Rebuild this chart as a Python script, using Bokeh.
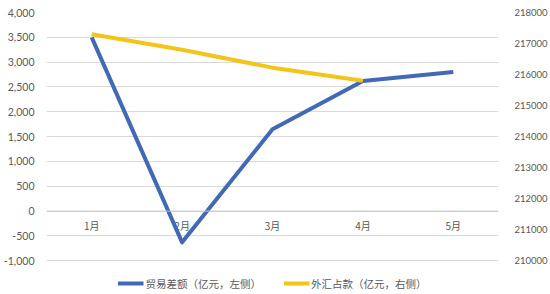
from bokeh.plotting import figure
from bokeh.models import (Range1d, LinearAxis, FixedTicker, NumeralTickFormatter,
                          BasicTickFormatter, Legend, LegendItem, ColumnDataSource, Span)
from bokeh.core.properties import value
from bokeh.embed import file_html
from bokeh.resources import INLINE

months = ["1月", "2月", "3月", "4月", "5月"]
trade_balance = [3500, -630, 1650, 2620, 2800]          # 贸易差额 (亿元, 左侧)
fx_months = ["1月", "2月", "3月", "4月"]
fx_holdings = [217300, 216800, 216220, 215800]          # 外汇占款 (亿元, 右侧)
left_ticks = [-1000, -500, 0, 500, 1000, 1500, 2000, 2500, 3000, 3500, 4000]
right_ticks = [210000, 211000, 212000, 213000, 214000, 215000, 216000, 217000, 218000]
series_names = ["贸易差额（亿元，左侧）", "外汇占款（亿元，右侧）"]

BLUE = "#4169B6"
GOLD = "#F3C41A"
LABEL = "#595959"
FONT = "Lato"
CJK = "Noto Sans CJK SC"

p = figure(width=550, height=294, x_range=months, y_range=Range1d(-1680, 4000),
           output_backend="svg", toolbar_location=None, x_axis_location=None,
           min_border_left=45, min_border_right=48, min_border_top=12, min_border_bottom=0)
p.extra_y_ranges = {"right": Range1d(208900, 218000)}
p.outline_line_color = None
p.background_fill_color = "white"
p.xgrid.grid_line_color = None
p.ygrid.grid_line_color = "#d9d9d9"
p.ygrid.ticker = FixedTicker(ticks=left_ticks)

ax = p.yaxis[0]
ax.ticker = FixedTicker(ticks=left_ticks)
ax.formatter = NumeralTickFormatter(format="0,0")
ax.axis_line_color = None
ax.major_tick_line_color = None
ax.minor_tick_line_color = None
ax.major_label_text_color = LABEL
ax.major_label_text_font = FONT
ax.major_label_text_font_size = "10.5px"
ax.major_label_standoff = 6

rax = LinearAxis(y_range_name="right", ticker=FixedTicker(ticks=right_ticks),
                 formatter=BasicTickFormatter(use_scientific=False))
rax.axis_line_color = None
rax.major_tick_line_color = None
rax.minor_tick_line_color = None
rax.major_label_text_color = LABEL
rax.major_label_text_font = FONT
rax.major_label_text_font_size = "9.5px"
rax.major_label_standoff = 10
p.add_layout(rax, "right")

# zero line (category axis)
p.add_layout(Span(location=0, dimension="width", line_color="#c8c8c8", line_width=1))

# category labels next to zero line
p.text(x=months, y=[0] * len(months), text=months, text_align="center",
       text_baseline="middle", y_offset=14, text_color=LABEL,
       text_font=value(CJK), text_font_size="10px")

src1 = ColumnDataSource(dict(x=months, y=trade_balance))
src2 = ColumnDataSource(dict(x=fx_months, y=fx_holdings))
r1 = p.line("x", "y", source=src1, line_color=BLUE, line_width=4, line_join="round")
r2 = p.line("x", "y", source=src2, line_color=GOLD, line_width=4, line_join="round",
            y_range_name="right")

legend = Legend(items=[LegendItem(label=series_names[0], renderers=[r1]),
                       LegendItem(label=series_names[1], renderers=[r2])],
                location="bottom_center", orientation="horizontal")
legend.border_line_color = None
legend.background_fill_alpha = 0
legend.label_text_font = CJK
legend.label_text_font_size = "10.5px"
legend.label_text_color = LABEL
legend.glyph_width = 26
legend.spacing = 22
legend.label_standoff = 2
legend.padding = 1
legend.margin = 1
p.add_layout(legend, "center")

open("out.html", "w").write(file_html(p, INLINE))
